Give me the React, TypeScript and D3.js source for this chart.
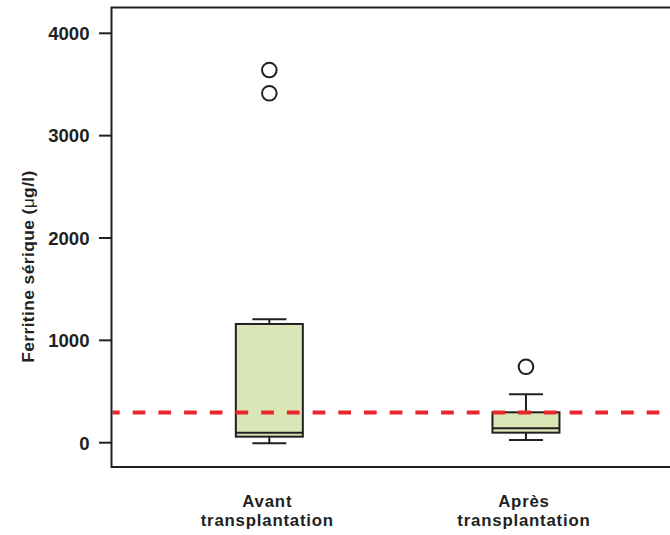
import React from "react";
import * as d3 from "d3";

const categories = ["Avant\ntransplantation", "Après\ntransplantation"];
const whiskerLow = [-5, 26];
const q1 = [59, 98];
const median = [98, 141];
const q3 = [1160, 297];
const whiskerHigh = [1206, 473];
const outliers = [[3641, 3414], [742]];
const threshold = 295;
const yTicks = [0, 1000, 2000, 3000, 4000];

const W = 670, H = 535;
const ink = "#231f20";
const font = "'Liberation Sans', Arial, Helvetica, sans-serif";

export default function App() {
  const y = d3.scaleLinear().domain([0, 4000]).range([442.7, 33.3]);
  const x = d3.scalePoint<string>().domain(categories).range([111.5, 683.8]).padding(0.615);
  const frameLeft = 111.5, frameTop = 7.5, frameBottom = 467, frameRight = 684;
  const boxW = 67, capW = 34;

  return (
    <svg width={W} height={H} style={{ position: "absolute", left: 0, top: 0 }}>
      <rect width={W} height={H} fill="#fff" />
      {categories.map((c, i) => {
        const cx = x(c)!;
        return (
          <g key={c}>
            <line x1={cx} x2={cx} y1={y(q3[i])} y2={y(whiskerHigh[i])} stroke={ink} strokeWidth={2} />
            <line x1={cx} x2={cx} y1={y(q1[i])} y2={y(whiskerLow[i])} stroke={ink} strokeWidth={2} />
            <line x1={cx - capW / 2} x2={cx + capW / 2} y1={y(whiskerHigh[i])} y2={y(whiskerHigh[i])} stroke={ink} strokeWidth={2} />
            <line x1={cx - capW / 2} x2={cx + capW / 2} y1={y(whiskerLow[i])} y2={y(whiskerLow[i])} stroke={ink} strokeWidth={2} />
            <rect x={cx - boxW / 2} width={boxW} y={y(q3[i])} height={y(q1[i]) - y(q3[i])}
              fill="#dbe6b7" stroke={ink} strokeWidth={2} />
            <line x1={cx - boxW / 2} x2={cx + boxW / 2} y1={y(median[i])} y2={y(median[i])} stroke={ink} strokeWidth={2} />
            {outliers[i].map((v, j) => (
              <circle key={j} cx={cx} cy={y(v)} r={7.3} fill="none" stroke={ink} strokeWidth={2} />
            ))}
          </g>
        );
      })}
      <line x1={frameLeft + 1} x2={W} y1={y(threshold)} y2={y(threshold)}
        stroke="#e8262b" strokeWidth={4} strokeDasharray="12.7 13" strokeDashoffset={5.5} />
      {/* frame */}
      <rect x={frameLeft} y={frameTop} width={frameRight - frameLeft} height={frameBottom - frameTop}
        fill="none" stroke={ink} strokeWidth={2} />
      {/* y axis ticks */}
      {yTicks.map((t) => (
        <g key={t}>
          <line x1={99} x2={frameLeft} y1={y(t)} y2={y(t)} stroke={ink} strokeWidth={2} />
          <text x={89.5} y={y(t) + 6.8} textAnchor="end" fontFamily={font} fontWeight="bold"
            fontSize={18.6} fill={ink}>{t}</text>
        </g>
      ))}
      <text transform={`translate(34,266.5) rotate(-90)`} textAnchor="middle" fontFamily={font}
        fontWeight="bold" fontSize={17.4} letterSpacing={0.4} fill={ink}>
        Ferritine sérique (<tspan fontWeight="normal">μ</tspan>g/l)
      </text>
      {/* x labels */}
      {categories.map((c) =>
        c.split("\n").map((l, k) => (
          <text key={c + k} x={x(c)! - 2} y={506.5 + k * 19} textAnchor="middle" fontFamily={font}
            fontWeight="bold" fontSize={16.8} letterSpacing={0.8} fill={ink}>{l}</text>
        ))
      )}
    </svg>
  );
}
